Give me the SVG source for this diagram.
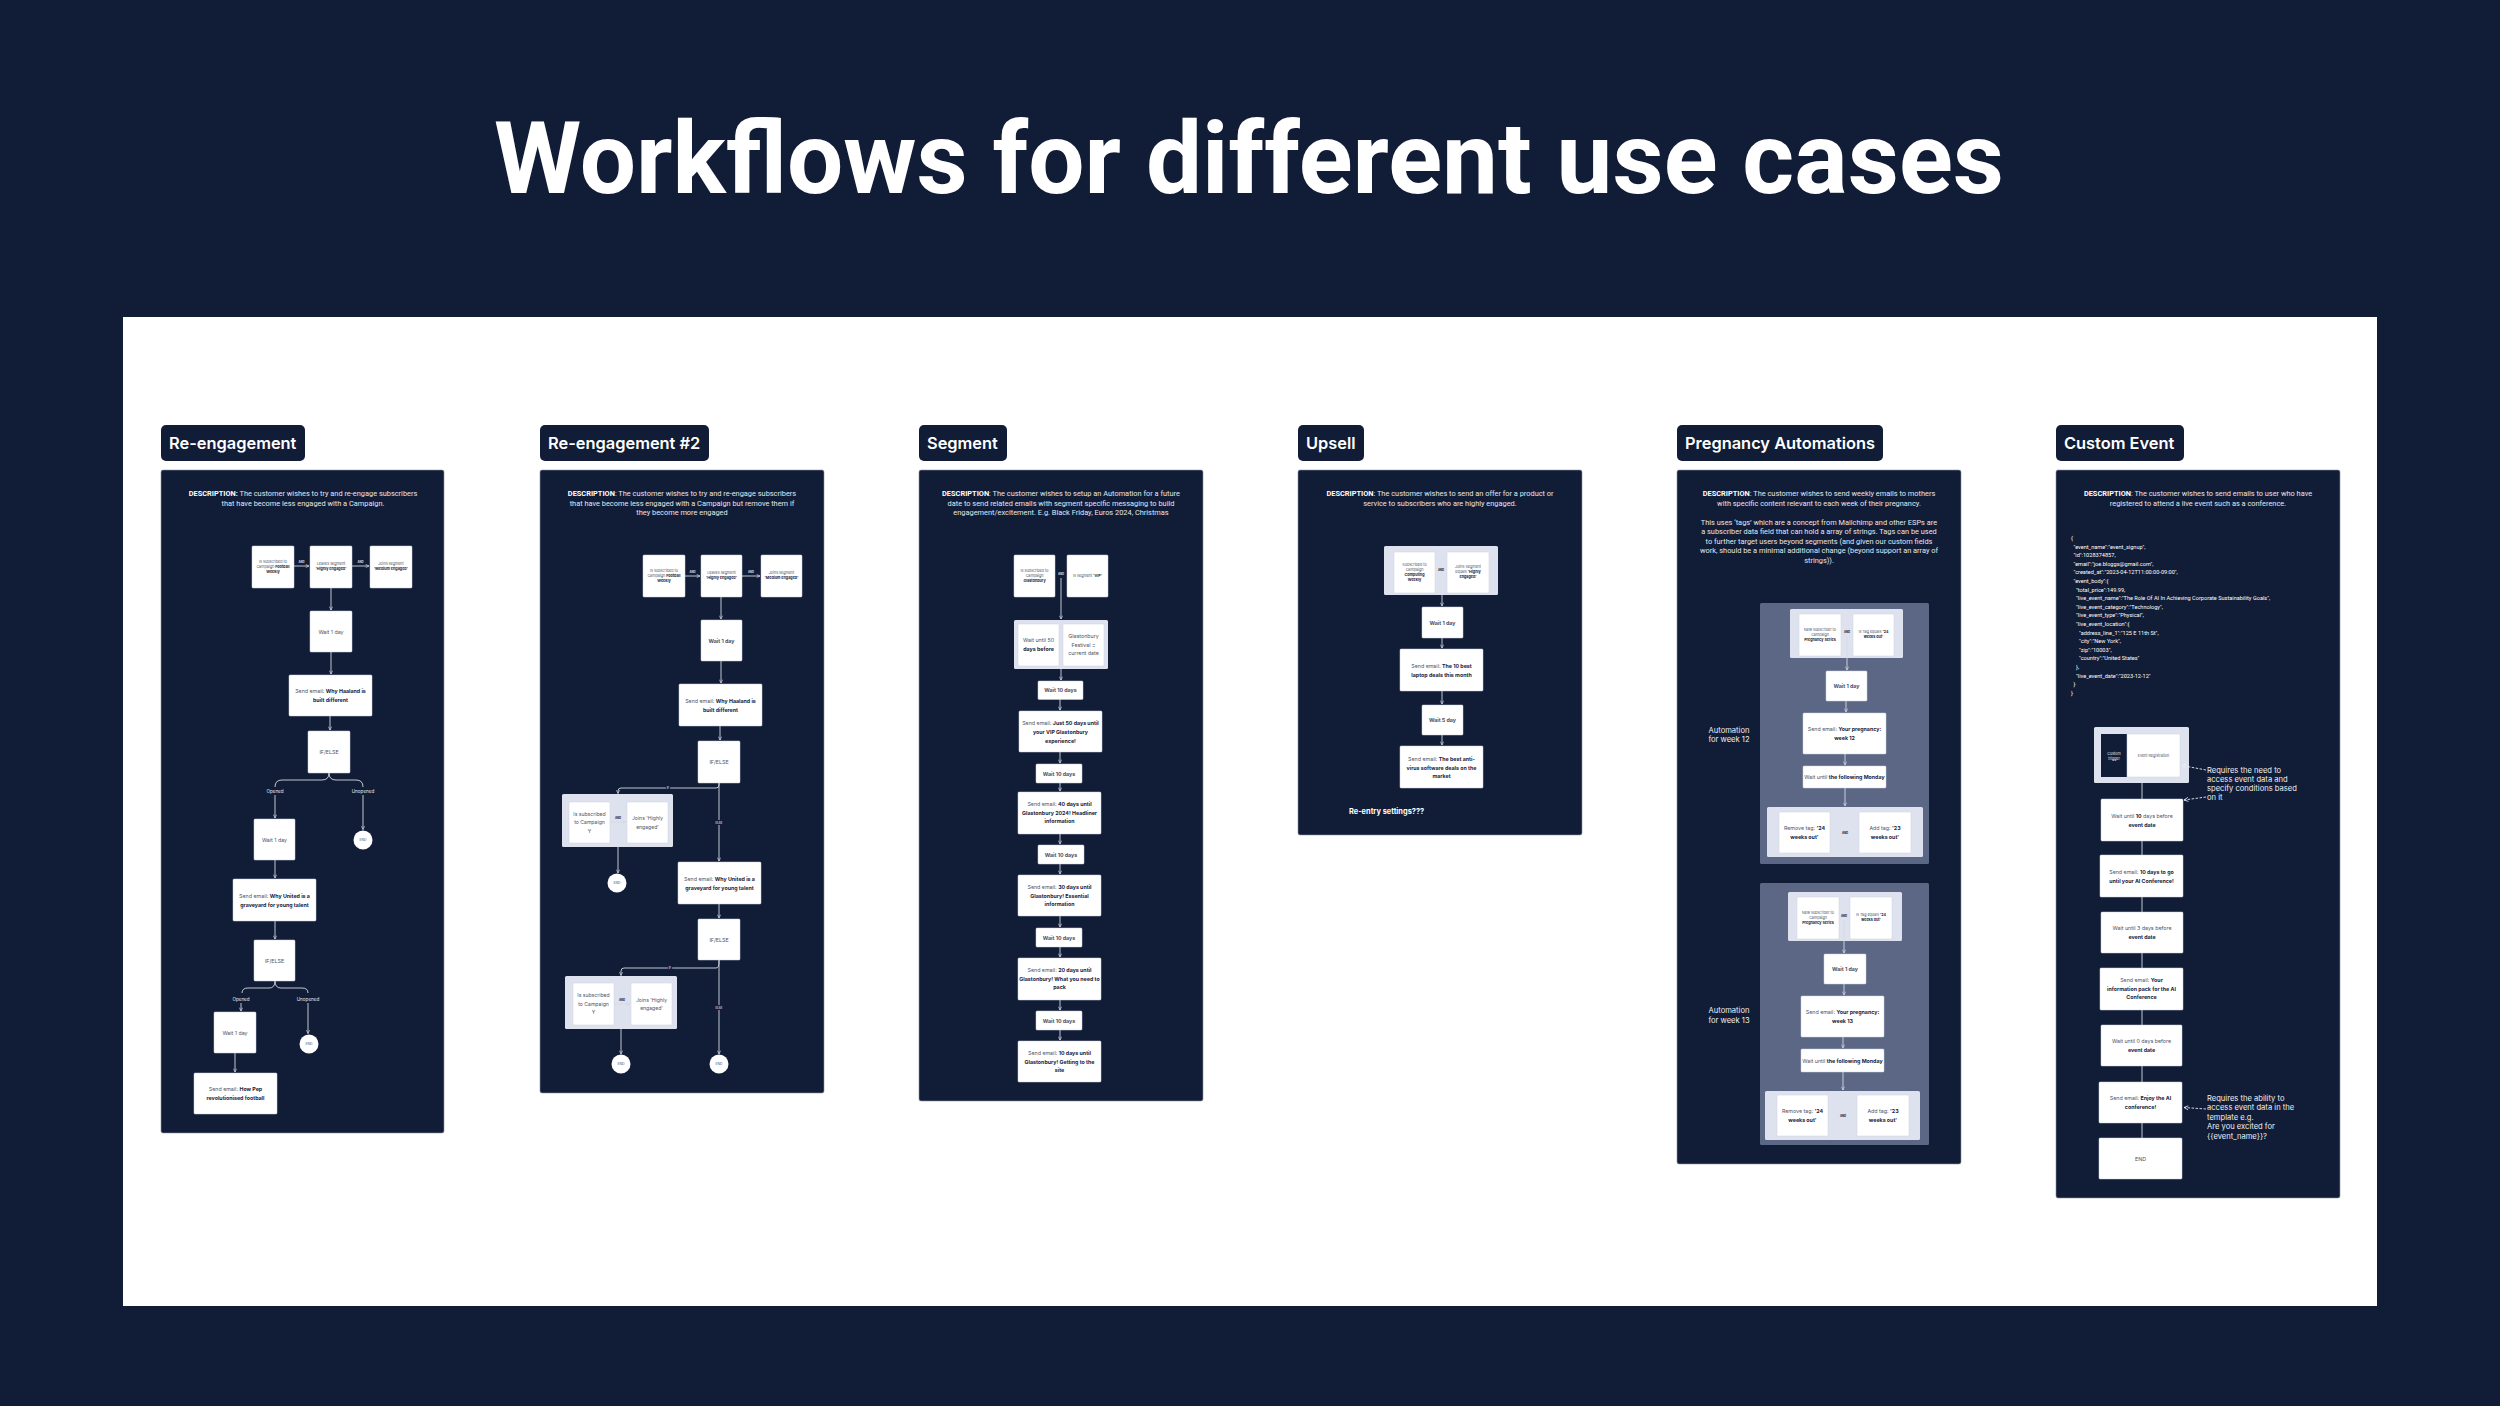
<svg xmlns="http://www.w3.org/2000/svg" width="2500" height="1406" viewBox="0 0 2500 1406">
<defs>
<marker id="ah" viewBox="0 0 6 6" refX="5.6" refY="3" markerWidth="4" markerHeight="4" orient="auto" markerUnits="userSpaceOnUse"><path d="M0.6,0.6 L5.6,3 L0.6,5.4" fill="none" stroke="#d5d9e2" stroke-width="1"/></marker>
<marker id="ahw" viewBox="0 0 6 6" refX="5.6" refY="3" markerWidth="5" markerHeight="5" orient="auto" markerUnits="userSpaceOnUse"><path d="M0.6,0.6 L5.6,3 L0.6,5.4" fill="none" stroke="#e8ebf0" stroke-width="1"/></marker>
</defs>
<style>
.panel{fill:#111c37;stroke:#8d96a8;stroke-width:0.6}
.tag{fill:#111c37}
.tagt{font-family:Inter,"Noto Sans",sans-serif;font-weight:600;font-size:16.4px;fill:#ffffff}
.desc{font-family:Roboto,"Liberation Sans",sans-serif;font-size:7.4px;fill:#e4e7ee;text-anchor:middle}
.desc .b{font-weight:700;fill:#ffffff}
.n{fill:#ffffff;stroke:#cdd2dc;stroke-width:0.5}
.g{fill:#dde2ee}
.o{fill:#5b6784}
.dk{fill:#111c37}
.nt{font-family:Inter,"Noto Sans",sans-serif;font-size:5.3px;fill:#4a5368;text-anchor:middle}
.nt .b{font-weight:700;fill:#1a2440}
.sm{font-size:3.7px}
.md{font-size:5.1px}
.c{fill:none;stroke:#d5d9e2;stroke-width:0.9}
.ca{fill:none;stroke:#d5d9e2;stroke-width:0.9;marker-end:url(#ah)}
.da{fill:none;stroke:#e8ebf0;stroke-width:0.9;stroke-dasharray:2.5 1.5;marker-end:url(#ahw)}
.lbl{font-family:Inter,"Noto Sans",sans-serif;font-size:4.6px;fill:#e4e7ee;text-anchor:middle}
.and{font-family:Inter,"Noto Sans",sans-serif;font-size:2.8px;font-weight:700;fill:#d5d9e2;text-anchor:middle}
.andd{font-family:Inter,"Noto Sans",sans-serif;font-size:2.8px;font-weight:700;fill:#1a2440;text-anchor:middle}
.ll{stroke:#111c37;stroke-width:2;paint-order:stroke}
.end{fill:#ffffff}
.endt{font-family:Inter,"Noto Sans",sans-serif;font-size:3.4px;fill:#4a5368;text-anchor:middle}
.wt{font-family:Inter,"Noto Sans",sans-serif;font-size:7.6px;fill:#eef0f4}
.js{font-family:Roboto,"Liberation Sans",sans-serif;font-size:5.6px;fill:#ffffff}
</style>
<rect width="2500" height="1406" fill="#111c37"/>
<text x="494" y="193" font-family="Roboto,'Liberation Sans',sans-serif" font-weight="700" font-size="101" fill="#ffffff" textLength="1510" lengthAdjust="spacingAndGlyphs">Workflows for different use cases</text>
<rect x="123" y="317" width="2254" height="989" fill="#ffffff"/>

<!-- Panel backgrounds and tags -->
<g id="panel-reengagement">
<rect class="tag" x="161" y="425" width="144" height="36" rx="5"/><text class="tagt" x="169" y="449">Re-engagement</text>
<rect class="panel" x="161" y="470" width="283" height="663" rx="2"/>
<text class="desc" x="303" y="496"><tspan class="b">DESCRIPTION:</tspan> The customer wishes to try and re-engage subscribers</text>
<text class="desc" x="303" y="505.5">that have become less engaged with a Campaign.</text>
</g>
<g id="panel-reengagement2">
<rect class="tag" x="540" y="425" width="169" height="36" rx="5"/><text class="tagt" x="548" y="449">Re-engagement #2</text>
<rect class="panel" x="540" y="470" width="284" height="623" rx="2"/>
<text class="desc" x="682" y="496"><tspan class="b">DESCRIPTION</tspan>: The customer wishes to try and re-engage subscribers</text>
<text class="desc" x="682" y="505.5">that have become less engaged with a Campaign but remove them if</text>
<text class="desc" x="682" y="515">they become more engaged</text>
</g>
<g id="panel-segment">
<rect class="tag" x="919" y="425" width="88" height="36" rx="5"/><text class="tagt" x="927" y="449">Segment</text>
<rect class="panel" x="919" y="470" width="284" height="631" rx="2"/>
<text class="desc" x="1061" y="496"><tspan class="b">DESCRIPTION</tspan>: The customer wishes to setup an Automation for a future</text>
<text class="desc" x="1061" y="505.5">date to send related emails with segment specific messaging to build</text>
<text class="desc" x="1061" y="515">engagement/excitement. E.g. Black Friday, Euros 2024, Christmas</text>
</g>
<g id="panel-upsell">
<rect class="tag" x="1298" y="425" width="66" height="36" rx="5"/><text class="tagt" x="1306" y="449">Upsell</text>
<rect class="panel" x="1298" y="470" width="284" height="365" rx="2"/>
<text class="desc" x="1440" y="496"><tspan class="b">DESCRIPTION</tspan>: The customer wishes to send an offer for a product or</text>
<text class="desc" x="1440" y="505.5">service to subscribers who are highly engaged.</text>
<text x="1349" y="813.5" font-family="Inter,'Noto Sans',sans-serif" font-weight="700" font-size="7.4" fill="#ffffff">Re-entry settings???</text>
</g>
<g id="panel-pregnancy">
<rect class="tag" x="1677" y="425" width="206" height="36" rx="5"/><text class="tagt" x="1685" y="449">Pregnancy Automations</text>
<rect class="panel" x="1677" y="470" width="284" height="694" rx="2"/>
<text class="desc" x="1819" y="496"><tspan class="b">DESCRIPTION</tspan>: The customer wishes to send weekly emails to mothers</text>
<text class="desc" x="1819" y="505.5">with specific content relevant to each week of their pregnancy.</text>
<text class="desc" x="1819" y="524.5">This uses ‘tags’ which are a concept from Mailchimp and other ESPs are</text>
<text class="desc" x="1819" y="534">a subscriber data field that can hold a array of strings. Tags can be used</text>
<text class="desc" x="1819" y="543.5">to further target users beyond segments (and given our custom fields</text>
<text class="desc" x="1819" y="553">work, should be a minimal additional change (beyond support an array of</text>
<text class="desc" x="1819" y="562.5">strings)).</text>
<text class="wt" x="1729" y="732.5" text-anchor="middle">Automation</text>
<text class="wt" x="1729" y="742" text-anchor="middle">for week 12</text>
<text class="wt" x="1729" y="1013" text-anchor="middle">Automation</text>
<text class="wt" x="1729" y="1022.5" text-anchor="middle">for week 13</text>
</g>
<g id="panel-custom-event">
<rect class="tag" x="2056" y="425" width="128" height="36" rx="5"/><text class="tagt" x="2064" y="449">Custom Event</text>
<rect class="panel" x="2056" y="470" width="284" height="728" rx="2"/>
<text class="desc" x="2198" y="496"><tspan class="b">DESCRIPTION</tspan>: The customer wishes to send emails to user who have</text>
<text class="desc" x="2198" y="505.5">registered to attend a live event such as a conference.</text>
<g class="js">
<text x="2071" y="540">{</text>
<text x="2073.5" y="548.6">"event_name":"event_signup",</text>
<text x="2073.5" y="557.2">"id":1028374857,</text>
<text x="2073.5" y="565.8">"email":"joe.bloggs@gmail.com",</text>
<text x="2073.5" y="574.4">"created_at":"2023-04-12T11:00:00-09:00",</text>
<text x="2073.5" y="583">"event_body":{</text>
<text x="2076" y="591.6">"total_price":149.99,</text>
<text x="2076" y="600.2">"live_event_name":"The Role Of AI In Achieving Corporate Sustainability Goals",</text>
<text x="2076" y="608.8">"live_event_category":"Technology",</text>
<text x="2076" y="617.4">"live_event_type":"Physical",</text>
<text x="2076" y="626">"live_event_location":{</text>
<text x="2079" y="634.6">"address_line_1":"125 E 11th St",</text>
<text x="2079" y="643.2">"city":"New York",</text>
<text x="2079" y="651.8">"zip":"10003",</text>
<text x="2079" y="660.4">"country":"United States"</text>
<text x="2076" y="669">},</text>
<text x="2076" y="677.6">"live_event_date":"2023-12-12"</text>
<text x="2073.5" y="686.2">}</text>
<text x="2071" y="694.8">}</text>
</g>
<g class="wt">
<text x="2207" y="772.5">Requires the need to</text>
<text x="2207" y="781.5">access event data and</text>
<text x="2207" y="790.5">specify conditions based</text>
<text x="2207" y="799.5">on it</text>
<text x="2207" y="1100.5">Requires the ability to</text>
<text x="2207" y="1110">access event data in the</text>
<text x="2207" y="1119.5">template e.g.</text>
<text x="2207" y="1129">Are you excited for</text>
<text x="2207" y="1138.5">{{event_name}}?</text>
</g>
</g>

<!-- Group containers -->
<g id="containers">
<rect class="g" x="562" y="794" width="111" height="53" rx="1.5"/>
<rect class="g" x="565" y="976" width="112" height="53" rx="1.5"/>
<rect class="g" x="1014" y="620" width="94" height="49" rx="1.5"/>
<rect class="g" x="1384" y="546" width="114" height="49" rx="1.5"/>
<rect class="o" x="1760" y="603" width="169" height="261" rx="1.5"/>
<rect class="g" x="1790" y="609" width="113" height="49" rx="1.5"/>
<rect class="g" x="1767" y="807" width="156" height="50" rx="1.5"/>
<rect class="o" x="1760" y="883" width="169" height="262" rx="1.5"/>
<rect class="g" x="1788" y="892" width="114" height="49" rx="1.5"/>
<rect class="g" x="1765" y="1091" width="155" height="49" rx="1.5"/>
<rect class="g" x="2094" y="727" width="95" height="56" rx="1.5"/>
</g>

<!-- Connectors -->
<g id="connectors">
<path class="ca" d="M294,566 L309,566"/><path class="ca" d="M352,566 L369,566"/>
<path class="ca" d="M331,588 L331,610"/>
<path class="ca" d="M331,652 L331,674"/>
<path class="ca" d="M330,716 L330,730"/>
<path class="c" d="M275,787 Q275,780 282,780 L322,780 Q329,780 329,773 Q329,780 336,780 L356,780 Q363,780 363,787"/>
<path class="ca" d="M275,795 L275,818"/>
<path class="ca" d="M363,795 L363,829.5"/>
<path class="ca" d="M275,860 L275,878"/>
<path class="ca" d="M275,921 L275,939"/>
<path class="c" d="M242,993 Q242,988 248,988 L269,988 Q275,988 275,981 Q275,988 281,988 L302,988 Q308,988 308,993"/>
<path class="ca" d="M241,1003 L241,1011"/>
<path class="ca" d="M308,1003 L308,1033.5"/>
<path class="ca" d="M235,1053 L235,1072"/>
<path class="ca" d="M685,576 L700,576"/><path class="ca" d="M742,576 L760,576"/>
<path class="ca" d="M721,597 L721,619"/>
<path class="ca" d="M721,661 L721,683"/>
<path class="ca" d="M720,726 L720,740"/>
<path class="ca" d="M719,783 L719,785 Q719,788 716,788 L621,788 Q618,788 618,791 L618,793.5"/>
<path class="ca" d="M610,822 L626,822"/>
<path class="ca" d="M618,847 L618,873"/>
<path class="ca" d="M719,783 L719,861"/>
<path class="ca" d="M719,904 L719,918"/>
<path class="ca" d="M719,960 L719,962 Q719,968 716,968 L624,968 Q621,968 621,971 L621,975.5"/>
<path class="ca" d="M614,1004 L630,1004"/>
<path class="ca" d="M621,1029 L621,1054"/>
<path class="ca" d="M719,960 L719,1054"/>
<path class="ca" d="M1061,578 L1061,619"/>
<path class="ca" d="M1061,669 L1061,680"/>
<path class="ca" d="M1060,699 L1060,710"/>
<path class="ca" d="M1060,752 L1060,763"/>
<path class="ca" d="M1060,783 L1060,791"/>
<path class="ca" d="M1060,834 L1060,844"/>
<path class="ca" d="M1060,864 L1060,874"/>
<path class="ca" d="M1060,916 L1060,927"/>
<path class="ca" d="M1060,947 L1060,957"/>
<path class="ca" d="M1060,1000 L1060,1010"/>
<path class="ca" d="M1060,1030 L1060,1040"/>
<path class="ca" d="M1442,595 L1442,606"/>
<path class="ca" d="M1442,638 L1442,648"/>
<path class="ca" d="M1442,691 L1442,704"/>
<path class="ca" d="M1442,735 L1442,745"/>
<path class="ca" d="M1847,637 L1847,670"/>
<path class="ca" d="M1846,701 L1846,712"/>
<path class="ca" d="M1845,754 L1845,765"/>
<path class="ca" d="M1845,788 L1845,806"/>
<path class="ca" d="M1844,920 L1844,953"/>
<path class="ca" d="M1844,984 L1844,995"/>
<path class="ca" d="M1843,1037 L1843,1048"/>
<path class="ca" d="M1843,1072 L1843,1090"/>
<path class="c" d="M2142,783 L2142,799"/>
<path class="c" d="M2142,841 L2142,855"/>
<path class="c" d="M2142,897 L2142,912"/>
<path class="c" d="M2142,953 L2142,968"/>
<path class="c" d="M2142,1010 L2142,1025"/>
<path class="c" d="M2142,1066 L2142,1082"/>
<path class="c" d="M2142,1123 L2142,1138"/>
<path class="da" d="M2206,770 L2182,765.5"/>
<path class="da" d="M2206,797 L2184,800"/>
<path class="da" d="M2206,1109 L2184,1107.5"/>
<text class="and" x="301.5" y="562.5">AND</text><text class="and" x="360.5" y="562.5">AND</text>
<text class="lbl" x="275" y="792.5">Opened</text><text class="lbl" x="363" y="792.5">Unopened</text>
<text class="lbl" x="241" y="1000.5">Opened</text><text class="lbl" x="308" y="1000.5">Unopened</text>
<text class="and" x="692.5" y="572.5">AND</text><text class="and" x="751" y="572.5">AND</text>
<text class="and ll" x="668" y="789">IF</text>
<text class="and ll" x="719" y="823.5">ELSE</text>
<text class="andd" x="618" y="818.5">AND</text>
<text class="and ll" x="670" y="969">IF</text>
<text class="and ll" x="719" y="1008.5">ELSE</text>
<text class="andd" x="622" y="1000.5">AND</text>
<text class="and ll" x="1061" y="574.5">AND</text>
<text class="andd" x="1441" y="570.5">AND</text>
<text class="andd" x="1847" y="633">AND</text>
<text class="andd" x="1845" y="834">AND</text>
<text class="andd" x="1844" y="916.5">AND</text>
<text class="andd" x="1843" y="1117">AND</text>
</g>

<!-- Panel 1 nodes -->
<g id="p1-sub"><rect class="n" x="252" y="546" width="42" height="42" rx="1"/><text class="nt sm" x="273" y="562.5">Is subscribed to<tspan x="273" dy="5">Campaign <tspan class="b">Football</tspan></tspan><tspan x="273" dy="5" class="b">Weekly</tspan></text></g>
<g id="p1-leaves"><rect class="n" x="310" y="546" width="42" height="42" rx="1"/><text class="nt sm" x="331" y="565">Leaves segment<tspan x="331" dy="5" class="b">'Highly engaged'</tspan></text></g>
<g id="p1-joins"><rect class="n" x="370" y="546" width="42" height="42" rx="1"/><text class="nt sm" x="391" y="565">Joins segment<tspan x="391" dy="5" class="b">'Medium engaged'</tspan></text></g>
<g id="p1-wait1"><rect class="n" x="310" y="611" width="42" height="41" rx="1"/><text class="nt" x="331" y="633.5">Wait 1 day</text></g>
<g id="p1-email1"><rect class="n" x="289" y="675" width="83" height="41" rx="1"/><text class="nt" x="330.5" y="693">Send email: <tspan class="b">Why Haaland is</tspan><tspan x="330.5" dy="9" class="b">built different</tspan></text></g>
<g id="p1-if1"><rect class="n" x="308" y="731" width="42" height="42" rx="1"/><text class="nt" x="329" y="754">IF/ELSE</text></g>
<g id="p1-wait2"><rect class="n" x="254" y="819" width="41" height="41" rx="1"/><text class="nt" x="274.5" y="841.5">Wait 1 day</text></g>
<g id="p1-end1"><circle class="end" cx="363" cy="840" r="9.5"/><text class="endt" x="363" y="841.2">END</text></g>
<g id="p1-email2"><rect class="n" x="233" y="879" width="83" height="42" rx="1"/><text class="nt" x="274.5" y="897.5">Send email: <tspan class="b">Why United is a</tspan><tspan x="274.5" dy="9" class="b">graveyard for young talent</tspan></text></g>
<g id="p1-if2"><rect class="n" x="254" y="940" width="41" height="41" rx="1"/><text class="nt" x="274.5" y="962.5">IF/ELSE</text></g>
<g id="p1-wait3"><rect class="n" x="214" y="1012" width="42" height="41" rx="1"/><text class="nt" x="235" y="1034.5">Wait 1 day</text></g>
<g id="p1-end2"><circle class="end" cx="309" cy="1044" r="9.5"/><text class="endt" x="309" y="1045.2">END</text></g>
<g id="p1-email3"><rect class="n" x="194" y="1073" width="83" height="41" rx="1"/><text class="nt" x="235.5" y="1091">Send email: <tspan class="b">How Pep</tspan><tspan x="235.5" dy="9" class="b">revolutionised football</tspan></text></g>

<!-- Panel 2 nodes -->
<g id="p2-sub"><rect class="n" x="643" y="555" width="42" height="42" rx="1"/><text class="nt sm" x="664" y="571.5">Is subscribed to<tspan x="664" dy="5">Campaign <tspan class="b">Football</tspan></tspan><tspan x="664" dy="5" class="b">Weekly</tspan></text></g>
<g id="p2-leaves"><rect class="n" x="701" y="555" width="41" height="42" rx="1"/><text class="nt sm" x="721.5" y="574">Leaves segment<tspan x="721.5" dy="5" class="b">'Highly engaged'</tspan></text></g>
<g id="p2-joins"><rect class="n" x="761" y="555" width="41" height="42" rx="1"/><text class="nt sm" x="781.5" y="574">Joins segment<tspan x="781.5" dy="5" class="b">'Medium engaged'</tspan></text></g>
<g id="p2-wait1"><rect class="n" x="701" y="620" width="41" height="41" rx="1"/><text class="nt b" x="721.5" y="642.5" font-weight="700">Wait 1 day</text></g>
<g id="p2-email1"><rect class="n" x="679" y="684" width="83" height="42" rx="1"/><text class="nt" x="720.5" y="702.5">Send email: <tspan class="b">Why Haaland is</tspan><tspan x="720.5" dy="9" class="b">built different</tspan></text></g>
<g id="p2-if1"><rect class="n" x="698" y="741" width="42" height="42" rx="1"/><text class="nt" x="719" y="764">IF/ELSE</text></g>
<g id="p2-cond1a"><rect class="n" x="569" y="802" width="41" height="41" rx="1"/><text class="nt md" x="589.5" y="815.5">Is subscribed<tspan x="589.5" dy="8.5">to Campaign</tspan><tspan x="589.5" dy="8.5">Y</tspan></text></g>
<g id="p2-cond1b"><rect class="n" x="627" y="802" width="41" height="41" rx="1"/><text class="nt md" x="647.5" y="820">Joins 'Highly<tspan x="647.5" dy="8.5">engaged'</tspan></text></g>
<g id="p2-end1"><circle class="end" cx="617" cy="883" r="9.5"/><text class="endt" x="617" y="884.2">END</text></g>
<g id="p2-email2"><rect class="n" x="678" y="862" width="83" height="42" rx="1"/><text class="nt" x="719.5" y="880.5">Send email: <tspan class="b">Why United is a</tspan><tspan x="719.5" dy="9" class="b">graveyard for young talent</tspan></text></g>
<g id="p2-if2"><rect class="n" x="698" y="919" width="42" height="41" rx="1"/><text class="nt" x="719" y="941.5">IF/ELSE</text></g>
<g id="p2-cond2a"><rect class="n" x="573" y="983" width="41" height="42" rx="1"/><text class="nt md" x="593.5" y="997">Is subscribed<tspan x="593.5" dy="8.5">to Campaign</tspan><tspan x="593.5" dy="8.5">Y</tspan></text></g>
<g id="p2-cond2b"><rect class="n" x="631" y="983" width="41" height="42" rx="1"/><text class="nt md" x="651.5" y="1001.5">Joins 'Highly<tspan x="651.5" dy="8.5">engaged'</tspan></text></g>
<g id="p2-end2"><circle class="end" cx="621" cy="1064" r="9.5"/><text class="endt" x="621" y="1065.2">END</text></g>
<g id="p2-end3"><circle class="end" cx="719" cy="1064" r="9.5"/><text class="endt" x="719" y="1065.2">END</text></g>

<!-- Panel 3 nodes -->
<g id="p3-sub"><rect class="n" x="1014" y="555" width="41" height="42" rx="1"/><text class="nt sm" x="1034.5" y="571.5">Is subscribed to<tspan x="1034.5" dy="5">Campaign</tspan><tspan x="1034.5" dy="5" class="b">Glastonbury</tspan></text></g>
<g id="p3-seg"><rect class="n" x="1067" y="555" width="41" height="42" rx="1"/><text class="nt sm" x="1087.5" y="577">Is segment <tspan class="b">'VIP'</tspan></text></g>
<g id="p3-waituntil"><rect class="n" x="1018" y="624" width="41" height="42" rx="1"/><text class="nt" x="1038.5" y="642">Wait until 50<tspan x="1038.5" dy="9" class="b">days before</tspan></text></g>
<g id="p3-date"><rect class="n" x="1063" y="624" width="41" height="42" rx="1"/><text class="nt" x="1083.5" y="638">Glastonbury<tspan x="1083.5" dy="8.5">Festival =</tspan><tspan x="1083.5" dy="8.5">current date</tspan></text></g>
<g id="p3-w1"><rect class="n" x="1038" y="681" width="45" height="18.5" rx="1"/><text class="nt b" x="1060.5" y="692" font-weight="700">Wait 10 days</text></g>
<g id="p3-e1"><rect class="n" x="1019" y="711" width="83" height="41" rx="1"/><text class="nt" x="1060.5" y="725">Send email: <tspan class="b">Just 50 days until</tspan><tspan x="1060.5" dy="9" class="b">your VIP Glastonbury</tspan><tspan x="1060.5" dy="9" class="b">experience!</tspan></text></g>
<g id="p3-w2"><rect class="n" x="1036" y="764" width="46" height="19" rx="1"/><text class="nt b" x="1059" y="775.5" font-weight="700">Wait 10 days</text></g>
<g id="p3-e2"><rect class="n" x="1018" y="792" width="83" height="42" rx="1"/><text class="nt" x="1059.5" y="806">Send email: <tspan class="b">40 days until</tspan><tspan x="1059.5" dy="8.7" class="b">Glastonbury 2024! Headliner</tspan><tspan x="1059.5" dy="8.7" class="b">information</tspan></text></g>
<g id="p3-w3"><rect class="n" x="1038" y="845" width="46" height="19" rx="1"/><text class="nt b" x="1061" y="856.5" font-weight="700">Wait 10 days</text></g>
<g id="p3-e3"><rect class="n" x="1018" y="875" width="83" height="41" rx="1"/><text class="nt" x="1059.5" y="889">Send email: <tspan class="b">30 days until</tspan><tspan x="1059.5" dy="8.7" class="b">Glastonbury! Essential</tspan><tspan x="1059.5" dy="8.7" class="b">information</tspan></text></g>
<g id="p3-w4"><rect class="n" x="1036" y="928" width="46" height="19" rx="1"/><text class="nt b" x="1059" y="939.5" font-weight="700">Wait 10 days</text></g>
<g id="p3-e4"><rect class="n" x="1018" y="958" width="83" height="42" rx="1"/><text class="nt" x="1059.5" y="972">Send email: <tspan class="b">20 days until</tspan><tspan x="1059.5" dy="8.7" class="b">Glastonbury! What you need to</tspan><tspan x="1059.5" dy="8.7" class="b">pack</tspan></text></g>
<g id="p3-w5"><rect class="n" x="1036" y="1011" width="46" height="19" rx="1"/><text class="nt b" x="1059" y="1022.5" font-weight="700">Wait 10 days</text></g>
<g id="p3-e5"><rect class="n" x="1018" y="1041" width="83" height="41" rx="1"/><text class="nt" x="1059.5" y="1055">Send email: <tspan class="b">10 days until</tspan><tspan x="1059.5" dy="8.7" class="b">Glastonbury! Getting to the</tspan><tspan x="1059.5" dy="8.7" class="b">site</tspan></text></g>

<!-- Panel 4 nodes -->
<g id="p4-sub"><rect class="n" x="1394" y="552" width="41" height="41" rx="1"/><text class="nt sm" x="1414.5" y="565.5">Subscribed to<tspan x="1414.5" dy="5.3">Campaign</tspan><tspan x="1414.5" dy="5.3" class="b">Computing</tspan><tspan x="1414.5" dy="5.3" class="b">Weekly</tspan></text></g>
<g id="p4-join"><rect class="n" x="1447" y="552" width="42" height="41" rx="1"/><text class="nt sm" x="1468" y="568">Joins Segment<tspan x="1468" dy="5">equals <tspan class="b">'Highly</tspan></tspan><tspan x="1468" dy="5" class="b">engaged'</tspan></text></g>
<g id="p4-w1"><rect class="n" x="1422" y="607" width="41" height="31" rx="1"/><text class="nt b" x="1442.5" y="624.5" font-weight="700">Wait 1 day</text></g>
<g id="p4-e1"><rect class="n" x="1400" y="649" width="83" height="42" rx="1"/><text class="nt" x="1441.5" y="668">Send email: <tspan class="b">The 10 best</tspan><tspan x="1441.5" dy="8.7" class="b">laptop deals this month</tspan></text></g>
<g id="p4-w2"><rect class="n" x="1422" y="705" width="41" height="30" rx="1"/><text class="nt b" x="1442.5" y="722" font-weight="700">Wait 5 day</text></g>
<g id="p4-e2"><rect class="n" x="1400" y="746" width="83" height="42" rx="1"/><text class="nt" x="1441.5" y="761">Send email: <tspan class="b">The best anti-</tspan><tspan x="1441.5" dy="8.5" class="b">virus software deals on the</tspan><tspan x="1441.5" dy="8.5" class="b">market</tspan></text></g>

<!-- Panel 5 nodes -->
<g id="p5-a-sub"><rect class="n" x="1799" y="614" width="42" height="42" rx="1"/><text class="nt sm" x="1820" y="630.5">New subscriber to<tspan x="1820" dy="5">Campaign</tspan><tspan x="1820" dy="5" class="b">Pregnancy Series</tspan></text></g>
<g id="p5-a-tag"><rect class="n" x="1853" y="614" width="41" height="42" rx="1"/><text class="nt sm" x="1873.5" y="632.5">Is Tag equals <tspan class="b">'24</tspan><tspan x="1873.5" dy="5" class="b">weeks out'</tspan></text></g>
<g id="p5-a-wait"><rect class="n" x="1826" y="671" width="41" height="30" rx="1"/><text class="nt b" x="1846.5" y="688" font-weight="700">Wait 1 day</text></g>
<g id="p5-a-email"><rect class="n" x="1803" y="713" width="83" height="41" rx="1"/><text class="nt" x="1844.5" y="731">Send email: <tspan class="b">Your pregnancy:</tspan><tspan x="1844.5" dy="9" class="b">week 12</tspan></text></g>
<g id="p5-a-monday"><rect class="n" x="1803" y="766" width="83" height="22" rx="1"/><text class="nt" x="1844.5" y="779">Wait until <tspan class="b">the following Monday</tspan></text></g>
<g id="p5-a-remove"><rect class="n" x="1779" y="812" width="51" height="41" rx="1"/><text class="nt" x="1804.5" y="830">Remove tag: <tspan class="b">'24</tspan><tspan x="1804.5" dy="9" class="b">weeks out'</tspan></text></g>
<g id="p5-a-add"><rect class="n" x="1859" y="812" width="52" height="41" rx="1"/><text class="nt" x="1885" y="830">Add tag: <tspan class="b">'23</tspan><tspan x="1885" dy="9" class="b">weeks out'</tspan></text></g>
<g id="p5-b-sub"><rect class="n" x="1797" y="897" width="42" height="42" rx="1"/><text class="nt sm" x="1818" y="913.5">New subscriber to<tspan x="1818" dy="5">Campaign</tspan><tspan x="1818" dy="5" class="b">Pregnancy Series</tspan></text></g>
<g id="p5-b-tag"><rect class="n" x="1850" y="897" width="42" height="42" rx="1"/><text class="nt sm" x="1871" y="916">Is Tag equals <tspan class="b">'24</tspan><tspan x="1871" dy="5" class="b">weeks out'</tspan></text></g>
<g id="p5-b-wait"><rect class="n" x="1824" y="954" width="42" height="30" rx="1"/><text class="nt b" x="1845" y="971" font-weight="700">Wait 1 day</text></g>
<g id="p5-b-email"><rect class="n" x="1801" y="996" width="83" height="41" rx="1"/><text class="nt" x="1842.5" y="1014">Send email: <tspan class="b">Your pregnancy:</tspan><tspan x="1842.5" dy="9" class="b">week 13</tspan></text></g>
<g id="p5-b-monday"><rect class="n" x="1801" y="1049" width="83" height="23" rx="1"/><text class="nt" x="1842.5" y="1062.5">Wait until <tspan class="b">the following Monday</tspan></text></g>
<g id="p5-b-remove"><rect class="n" x="1777" y="1095" width="51" height="41" rx="1"/><text class="nt" x="1802.5" y="1113">Remove tag: <tspan class="b">'24</tspan><tspan x="1802.5" dy="9" class="b">weeks out'</tspan></text></g>
<g id="p5-b-add"><rect class="n" x="1857" y="1095" width="52" height="41" rx="1"/><text class="nt" x="1883" y="1113">Add tag: <tspan class="b">'23</tspan><tspan x="1883" dy="9" class="b">weeks out'</tspan></text></g>

<!-- Panel 6 nodes -->
<g id="p6-trigger"><rect class="dk" x="2101" y="734" width="26" height="43"/><text class="nt sm" x="2114" y="755" style="fill:#e4e7ee">Custom<tspan x="2114" dy="5">trigger</tspan></text><rect class="n" x="2127" y="734" width="53" height="43"/><text class="nt sm" x="2153.5" y="757">Event Registration</text></g>
<g id="p6-w1"><rect class="n" x="2101" y="799" width="82" height="42" rx="1"/><text class="nt" x="2142" y="817.5">Wait until <tspan class="b">10</tspan> days before<tspan x="2142" dy="9" class="b">event date</tspan></text></g>
<g id="p6-e1"><rect class="n" x="2100" y="855" width="83" height="42" rx="1"/><text class="nt" x="2141.5" y="873.5">Send email: <tspan class="b">10 days to go</tspan><tspan x="2141.5" dy="9" class="b">until your AI Conference!</tspan></text></g>
<g id="p6-w2"><rect class="n" x="2101" y="912" width="82" height="41" rx="1"/><text class="nt" x="2142" y="930">Wait until 3 days before<tspan x="2142" dy="9" class="b">event date</tspan></text></g>
<g id="p6-e2"><rect class="n" x="2100" y="968" width="83" height="42" rx="1"/><text class="nt" x="2141.5" y="982">Send email: <tspan class="b">Your</tspan><tspan x="2141.5" dy="8.7" class="b">information pack for the AI</tspan><tspan x="2141.5" dy="8.7" class="b">Conference</tspan></text></g>
<g id="p6-w3"><rect class="n" x="2101" y="1025" width="81" height="41" rx="1"/><text class="nt" x="2141.5" y="1043">Wait until 0 days before<tspan x="2141.5" dy="9" class="b">event date</tspan></text></g>
<g id="p6-e3"><rect class="n" x="2099" y="1082" width="83" height="41" rx="1"/><text class="nt" x="2140.5" y="1100">Send email: <tspan class="b">Enjoy the AI</tspan><tspan x="2140.5" dy="9" class="b">conference!</tspan></text></g>
<g id="p6-end"><rect class="n" x="2099" y="1138" width="83" height="41" rx="1"/><text class="nt" x="2140.5" y="1160.5">END</text></g>
</svg>
